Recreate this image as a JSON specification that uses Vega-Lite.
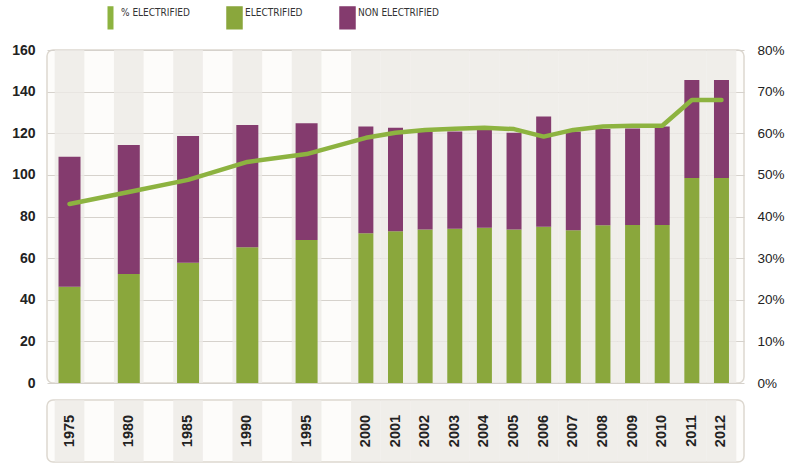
{
  "$schema": "https://vega.github.io/schema/vega-lite/v6.json",
  "autosize": {"type": "pad"},
  "padding": {"left": 10, "top": 9, "right": 0, "bottom": 0},
  "background": "white",
  "spacing": 8,
  "config": {
    "font": "Liberation Sans",
    "view": {"fill": "#fdfcfa", "stroke": "#ddd8d0", "strokeWidth": 1.5, "cornerRadius": 6}
  },
  "datasets": {
    "energy": [
      {"year": "1975", "electrified": 46.3, "non_electrified": 62.4, "pct": 43.0},
      {"year": "1980", "electrified": 52.4, "non_electrified": 62.0, "pct": 45.9},
      {"year": "1985", "electrified": 57.8, "non_electrified": 60.9, "pct": 48.8},
      {"year": "1990", "electrified": 65.2, "non_electrified": 58.8, "pct": 53.1},
      {"year": "1995", "electrified": 68.7, "non_electrified": 56.1, "pct": 55.0},
      {"year": "2000", "electrified": 71.9, "non_electrified": 51.3, "pct": 58.9},
      {"year": "2001", "electrified": 72.9, "non_electrified": 49.8, "pct": 60.1},
      {"year": "2002", "electrified": 73.8, "non_electrified": 46.9, "pct": 60.8},
      {"year": "2003", "electrified": 74.1, "non_electrified": 46.8, "pct": 61.1},
      {"year": "2004", "electrified": 74.6, "non_electrified": 47.0, "pct": 61.3},
      {"year": "2005", "electrified": 73.8, "non_electrified": 46.4, "pct": 61.0},
      {"year": "2006", "electrified": 75.1, "non_electrified": 52.9, "pct": 59.2},
      {"year": "2007", "electrified": 73.4, "non_electrified": 47.4, "pct": 60.8},
      {"year": "2008", "electrified": 75.8, "non_electrified": 46.3, "pct": 61.6},
      {"year": "2009", "electrified": 75.9, "non_electrified": 46.4, "pct": 61.8},
      {"year": "2010", "electrified": 75.9, "non_electrified": 47.3, "pct": 61.8},
      {"year": "2011", "electrified": 98.5, "non_electrified": 47.1, "pct": 68.0},
      {"year": "2012", "electrified": 98.5, "non_electrified": 47.1, "pct": 68.0}
    ]
  },
  "vconcat": [
    {
      "width": 697,
      "height": 333,
      "data": {"name": "energy"},
      "layer": [
        {
          "mark": {"type": "bar", "color": "#eceae6", "opacity": 0.8},
          "encoding": {
            "x": {"field": "year", "type": "nominal", "scale": {"domain": ["1975","s1","1980","s2","1985","s3","1990","s4","1995","s5","2000","2001","2002","2003","2004","2005","2006","2007","2008","2009","2010","2011","2012"], "paddingInner": 0, "paddingOuter": 0.26}, "axis": null},
            "size": {"condition": {"test": "toNumber(datum.year) < 2000", "value": 23}, "value": 17}
          }
        },
        {
          "transform": [{"fold": ["electrified", "non_electrified"], "as": ["series", "value"]}],
          "mark": {"type": "bar"},
          "encoding": {
            "x": {"field": "year", "type": "nominal", "scale": {"domain": ["1975","s1","1980","s2","1985","s3","1990","s4","1995","s5","2000","2001","2002","2003","2004","2005","2006","2007","2008","2009","2010","2011","2012"], "paddingInner": 0, "paddingOuter": 0.26}, "axis": null},
            "size": {"condition": {"test": "toNumber(datum.year) < 2000", "value": 22}, "value": 15},
            "y": {
              "field": "value", "type": "quantitative", "stack": "zero",
              "scale": {"domain": [0, 160], "nice": false},
              "axis": {"values": [0,20,40,60,80,100,120,140,160], "grid": true, "gridColor": "#d6d2cc", "gridWidth": 1, "domain": false, "ticks": false, "labelPadding": 12, "labelFontSize": 14, "labelFontWeight": "bold", "labelColor": "#222", "title": null}
            },
            "order": {"field": "series", "sort": "ascending"},
            "color": {
              "field": "series", "type": "nominal",
              "scale": {"domain": ["pct", "electrified", "non_electrified"], "range": ["#8db340", "#8aa73c", "#843b6e"]},
              "legend": {
                "orient": "none", "legendX": 55, "legendY": -41, "direction": "horizontal", "title": null,
                "labelExpr": "datum.label == 'pct' ? '% ELECTRIFIED' : (datum.label == 'electrified' ? 'ELECTRIFIED' : 'NON ELECTRIFIED')",
                "symbolSize": 225,
                "labelFont": "Liberation Sans Narrow, DejaVu Sans Condensed, sans-serif",
                "labelFontSize": 10, "labelColor": "#333", "labelOffset": 2, "columnPadding": 34,
                "encode": {
                  "symbols": {"update": {
                    "shape": {"signal": "datum.value == 'pct' ? 'M-0.3,-1.45H0.3V1.45H-0.3Z' : 'M-1,-1.45H1V1.45H-1Z'"},
                    "fill": {"signal": "scale('color', datum.value)"},
                    "stroke": {"value": "transparent"},
                    "opacity": {"value": 1}
                  }},
                  "labels": {"update": {"dy": {"value": -5}}}
                }
              }
            }
          }
        },
        {
          "mark": {"type": "line", "strokeWidth": 4.5, "strokeCap": "round", "strokeJoin": "round"},
          "encoding": {
            "x": {"field": "year", "type": "nominal", "scale": {"domain": ["1975","s1","1980","s2","1985","s3","1990","s4","1995","s5","2000","2001","2002","2003","2004","2005","2006","2007","2008","2009","2010","2011","2012"], "paddingInner": 0, "paddingOuter": 0.26}, "axis": null},
            "y": {
              "field": "pct", "type": "quantitative",
              "scale": {"domain": [0, 80], "nice": false},
              "axis": {"orient": "right", "values": [0,10,20,30,40,50,60,70,80], "labelExpr": "datum.value + '%'", "grid": false, "domain": false, "ticks": false, "labelPadding": 13, "labelFontSize": 13.5, "labelColor": "#222", "title": null}
            },
            "color": {"datum": "pct"}
          }
        }
      ],
      "resolve": {"scale": {"y": "independent"}}
    },
    {
      "width": 697,
      "height": 62,
      "data": {"name": "energy"},
      "layer": [
        {
          "mark": {"type": "bar", "color": "#eceae6", "opacity": 0.8},
          "encoding": {
            "x": {"field": "year", "type": "nominal", "scale": {"domain": ["1975","s1","1980","s2","1985","s3","1990","s4","1995","s5","2000","2001","2002","2003","2004","2005","2006","2007","2008","2009","2010","2011","2012"], "paddingInner": 0, "paddingOuter": 0.26}, "axis": null},
            "size": {"condition": {"test": "toNumber(datum.year) < 2000", "value": 23}, "value": 17}
          }
        },
        {
          "mark": {"type": "text", "angle": 270, "fontSize": 14.5, "fontWeight": "bold", "color": "#222", "align": "center", "baseline": "middle"},
          "encoding": {
            "x": {"field": "year", "type": "nominal", "scale": {"domain": ["1975","s1","1980","s2","1985","s3","1990","s4","1995","s5","2000","2001","2002","2003","2004","2005","2006","2007","2008","2009","2010","2011","2012"], "paddingInner": 0, "paddingOuter": 0.26}, "axis": null},
            "text": {"field": "year"}
          }
        }
      ]
    }
  ]
}
